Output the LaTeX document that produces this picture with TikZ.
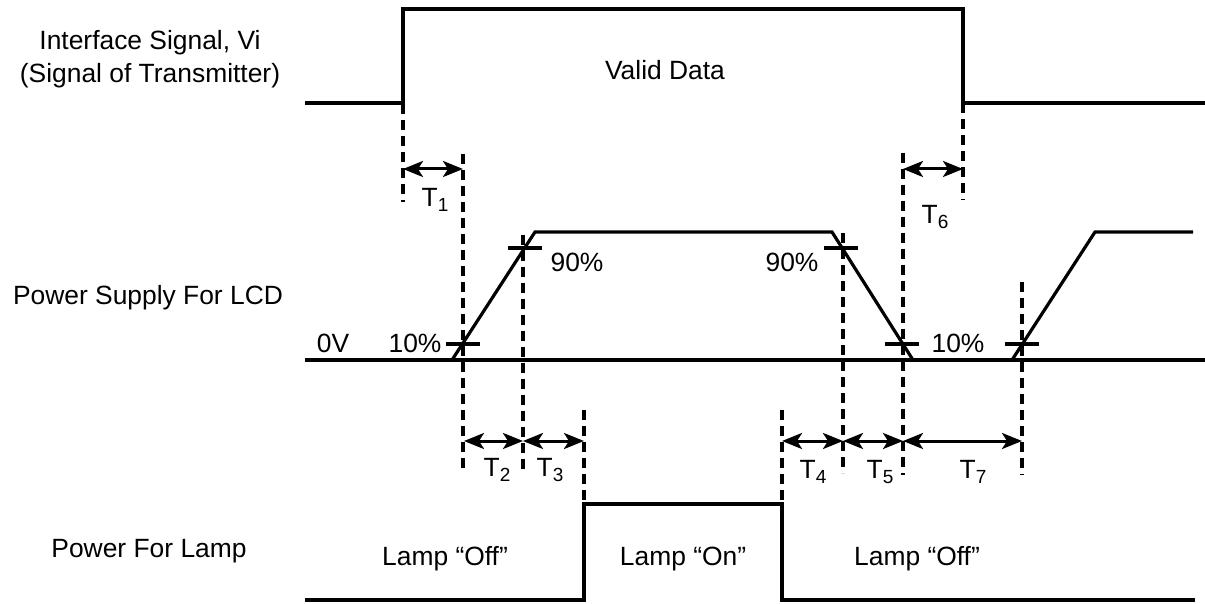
\documentclass[tikz,border=0pt]{standalone}
\usepackage{fontspec}
\setmainfont{Liberation Sans}
\usetikzlibrary{arrows.meta,positioning}

\newcommand{\tsub}[1]{\raisebox{-2.5pt}{\fontsize{9.5}{10}\selectfont #1}}

\tikzset{
    wave/.style={line width=1.6pt, line join=miter},
    guide/.style={line width=1.6pt, dash pattern=on 5pt off 3pt},
    levelbar/.style={line width=1.6pt},
    span/.style={line width=1.5pt, {Stealth[length=10pt,width=8pt,inset=2.5pt]}-{Stealth[length=10pt,width=8pt,inset=2.5pt]}},
    lbl/.style={font=\fontsize{13.2}{16.5}\selectfont, inner sep=0pt, anchor=base}
}

\begin{document}
\begin{tikzpicture}[x=0.5pt,y=-0.5pt]
    \useasboundingbox (0,0) rectangle (1205,604);

    % signal names
    \node[lbl] (vi) at (150,50) {Interface Signal, Vi};
    \node[lbl] (tx) at (150,83) {(Signal of Transmitter)};
    \node[lbl] (lcd) at (148,305) {Power Supply For LCD};
    \node[lbl] (lamp) at (149,557) {Power For Lamp};

    % interface signal
    \draw[wave] (305,103) -- (403,103) -- (403,9) -- (963,9) -- (963,103) -- (1205,103);
    \node[lbl] (data) at (665,80) {Valid Data};

    % LCD supply
    \draw[wave] (305,360) -- (1205,360);
    \draw[wave] (452,360) -- (535,232) -- (832,232) -- (913,360);
    \draw[wave] (1012,360) -- (1095,232) -- (1193,232);
    \node[lbl] (zero) at (333,352) {0V};
    \node[lbl] (p10a) at (415,352) {10\%};
    \node[lbl] (p90a) at (577,272) {90\%};
    \node[lbl] (p90b) at (792,272) {90\%};
    \node[lbl] (p10b) at (958,352) {10\%};

    % 10% / 90% bars
    \foreach \x/\y in {463/344, 525/248, 841/248, 902/344, 1022/344}
        \draw[levelbar] (\x-17,\y) -- (\x+17,\y);

    % lamp
    \draw[wave] (305,600) -- (584,600) -- (584,504) -- (782,504) -- (782,600) -- (1195,600);
    \node[lbl] (off1) at (445,565) {Lamp “Off”};
    \node[lbl] (on) at (683,565) {Lamp “On”};
    \node[lbl] (off2) at (917,565) {Lamp “Off”};

    % guides
    \foreach \x/\top/\bot in {403/104/202, 463/154/472, 523/235/472, 584/410/504,
                              782/410/504, 843/233/473, 903/153/475, 963/103/200, 1022/282/475}
        \draw[guide] (\x,\top) -- (\x,\bot);

    % timing spans
    \coordinate (a1) at (403,169);
    \coordinate (a2) at (463,169);
    \coordinate (a3) at (903,169);
    \coordinate (a4) at (963,169);
    \foreach \n/\x in {b1/464, b2/523, b3/584, b4/782, b5/843, b6/903, b7/1022}
        \coordinate (\n) at (\x,441);

    \draw[span] (a1) -- (a2);
    \draw[span] (a3) -- (a4);
    \foreach \p/\q in {b1/b2, b2/b3, b4/b5, b5/b6, b6/b7}
        \draw[span] (\p) -- (\q);

    \node[lbl] (t1) at (435,207) {T\tsub{1}};
    \node[lbl] (t6) at (935,224) {T\tsub{6}};
    \node[lbl] (t2) at (497,476) {T\tsub{2}};
    \node[lbl] (t3) at (550,476) {T\tsub{3}};
    \node[lbl] (t4) at (813,478) {T\tsub{4}};
    \node[lbl] (t5) at (880,478) {T\tsub{5}};
    \node[lbl] (t7) at (973,478) {T\tsub{7}};
\end{tikzpicture}
\end{document}
